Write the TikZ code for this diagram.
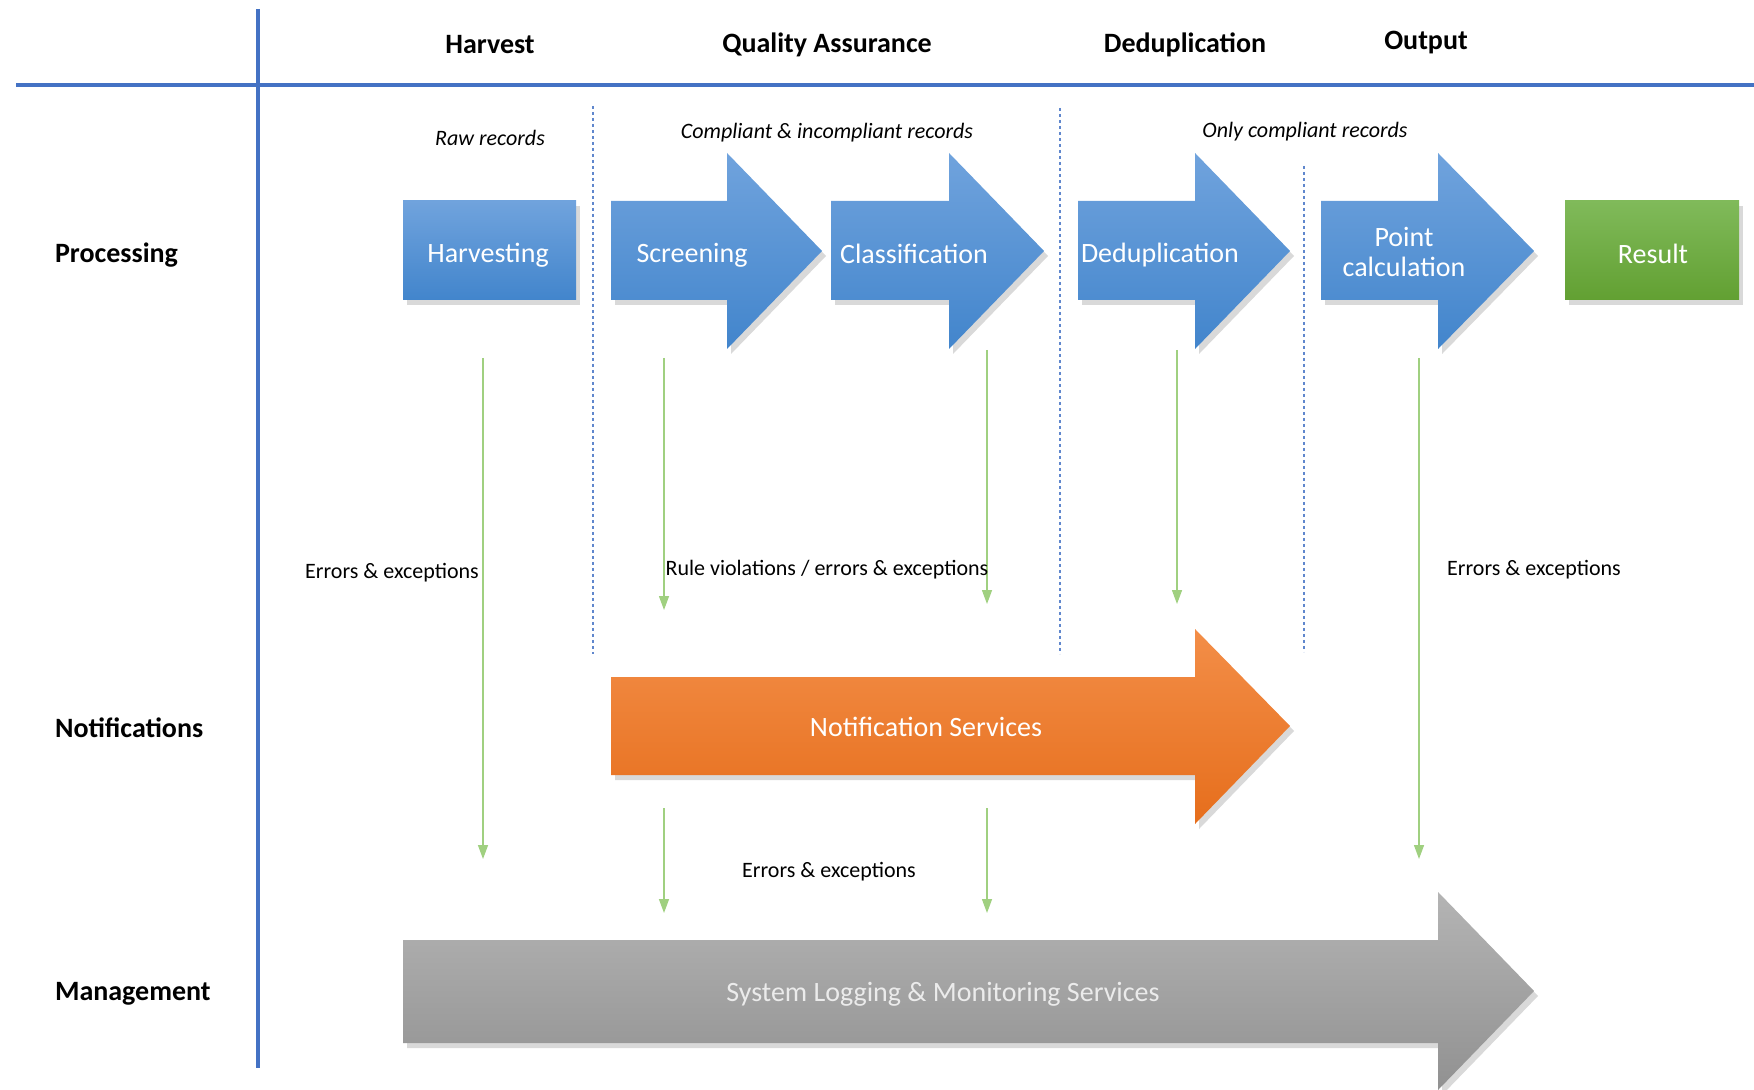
\documentclass[tikz,border=0pt]{standalone}
\usepackage{fontspec}
\setmainfont{Carlito}
\usetikzlibrary{arrows.meta, shadows}
\definecolor{Lane}{RGB}{68,114,196}
\definecolor{StepTop}{RGB}{112,163,221}
\definecolor{StepBot}{RGB}{66,133,204}
\definecolor{ResTop}{RGB}{128,186,90}
\definecolor{ResBot}{RGB}{98,160,50}
\definecolor{NoteTop}{RGB}{243,142,72}
\definecolor{NoteBot}{RGB}{230,110,28}
\definecolor{LogTop}{RGB}{180,180,180}
\definecolor{LogBot}{RGB}{145,145,145}
\definecolor{Err}{RGB}{160,208,128}

\tikzset{
  lane/.style={draw=Lane, line width=1.6pt},
  divider/.style={draw=Lane!85!white, line width=1.3pt, dash pattern=on 1.3pt off 1.7pt},
  boxshadow/.style={drop shadow={opacity=0.3, shadow xshift=2pt, shadow yshift=-2.5pt}},
  stepshape/.style={boxshadow, top color=StepTop, bottom color=StepBot},
  resshape/.style={boxshadow, top color=ResTop, bottom color=ResBot},
  noteshape/.style={boxshadow, top color=NoteTop, bottom color=NoteBot},
  logshape/.style={boxshadow, top color=LogTop, bottom color=LogBot},
  steplabel/.style={text=white, font=\fontsize{14}{17}\selectfont, align=center},
  hdr/.style={font=\bfseries\fontsize{14}{17}\selectfont},
  flownote/.style={font=\itshape\fontsize{11}{13}\selectfont},
  errlabel/.style={font=\fontsize{11}{13}\selectfont},
  errarrow/.style={draw=Err, line width=0.7pt, -{Triangle[length=7pt,width=5pt]}}
}

\begin{document}
\begin{tikzpicture}[x=0.5pt,y=-0.5pt]
    \useasboundingbox (0,0) rectangle (1754,1090);

    % Swimlane grid
    \draw[lane] (16,85) -- (1754,85);
    \draw[lane] (258,9) -- (258,1068);

    % Stage dividers
    \draw[divider] (593,106) -- (593,654);
    \draw[divider] (1060,108) -- (1060,654);
    \draw[divider] (1304,166) -- (1304,652);

    % Column headers
    \node[hdr] (hdrHarvest) at (490,45) {Harvest};
    \node[hdr] (hdrQuality) at (827,45) {Quality Assurance};
    \node[hdr] (hdrDedup) at (1185,45) {Deduplication};
    \node[hdr] (hdrOutput) at (1426,43) {Output};

    % Row headers
    \node[hdr, anchor=west] (rowProc) at (48,255) {Processing};
    \node[hdr, anchor=west] (rowNotif) at (48,728) {Notifications};
    \node[hdr, anchor=west] (rowMgmt) at (48,994) {Management};

    % Record flow notes
    \node[flownote] (noteRaw) at (490,138) {Raw records};
    \node[flownote] (noteMixed) at (827,133) {Compliant \& incompliant records};
    \node[flownote] (noteOnly) at (1305,132) {Only compliant records};

    % Processing steps
    \path[stepshape] (403,201) rectangle (576,300);
    \node[steplabel] (harvesting) at (488,255) {Harvesting};

    \path[stepshape] (611,201) -- (727,201) -- (727,153) -- (822,251) -- (727,349) -- (727,300) -- (611,300) -- cycle;
    \node[steplabel] (screening) at (692,255) {Screening};

    \path[stepshape] (831,201) -- (949,201) -- (949,153) -- (1044,251) -- (949,349) -- (949,300) -- (831,300) -- cycle;
    \node[steplabel] (classification) at (914,254) {Classification};

    \path[stepshape] (1078,201) -- (1195,201) -- (1195,153) -- (1290,251) -- (1195,349) -- (1195,300) -- (1078,300) -- cycle;
    \node[steplabel] (deduplication) at (1160,255) {Deduplication};

    \path[stepshape] (1321,201) -- (1438,201) -- (1438,153) -- (1534,251) -- (1438,349) -- (1438,300) -- (1321,300) -- cycle;
    \node[steplabel] (pointcalc) at (1404,252) {Point\\[-2pt]calculation};

    \path[resshape] (1565,201) rectangle (1739,300);
    \node[steplabel] (result) at (1653,254) {Result};

    % Notification services
    \path[noteshape] (611,677) -- (1195,677) -- (1195,629) -- (1290,726) -- (1195,824) -- (1195,775) -- (611,775) -- cycle;
    \node[steplabel] (notifServ) at (926,727) {Notification Services};

    % Logging and monitoring
    \path[logshape] (403,940) -- (1438,940) -- (1438,892) -- (1534,991) -- (1438,1090) -- (1438,1043) -- (403,1043) -- cycle;
    \node[steplabel, text=white!92!black] (logServ) at (943,994) {System Logging \& Monitoring Services};

    % Error flow end points
    \coordinate (harvTop) at (483,358);
    \coordinate (harvEnd) at (483,859);
    \coordinate (scrTop) at (664,358);
    \coordinate (scrEnd) at (664,610);
    \coordinate (clsTop) at (987,350);
    \coordinate (clsEnd) at (987,604);
    \coordinate (dedTop) at (1177,350);
    \coordinate (dedEnd) at (1177,604);
    \coordinate (outTop) at (1419,358);
    \coordinate (outEnd) at (1419,859);
    \coordinate (ntfLeftTop) at (664,808);
    \coordinate (ntfLeftEnd) at (664,913);
    \coordinate (ntfRightTop) at (987,808);
    \coordinate (ntfRightEnd) at (987,913);

    % Error flows
    \draw[errarrow] (harvTop) -- (harvEnd);
    \draw[errarrow] (scrTop) -- (scrEnd);
    \draw[errarrow] (clsTop) -- (clsEnd);
    \draw[errarrow] (dedTop) -- (dedEnd);
    \draw[errarrow] (outTop) -- (outEnd);
    \draw[errarrow] (ntfLeftTop) -- (ntfLeftEnd);
    \draw[errarrow] (ntfRightTop) -- (ntfRightEnd);

    \node[errlabel] (errHarvest) at (392,573) {Errors \& exceptions};
    \node[errlabel] (errQuality) at (827,570) {Rule violations / errors \& exceptions};
    \node[errlabel] (errOutput) at (1534,570) {Errors \& exceptions};
    \node[errlabel] (errNotif) at (829,872) {Errors \& exceptions};
\end{tikzpicture}
\end{document}
